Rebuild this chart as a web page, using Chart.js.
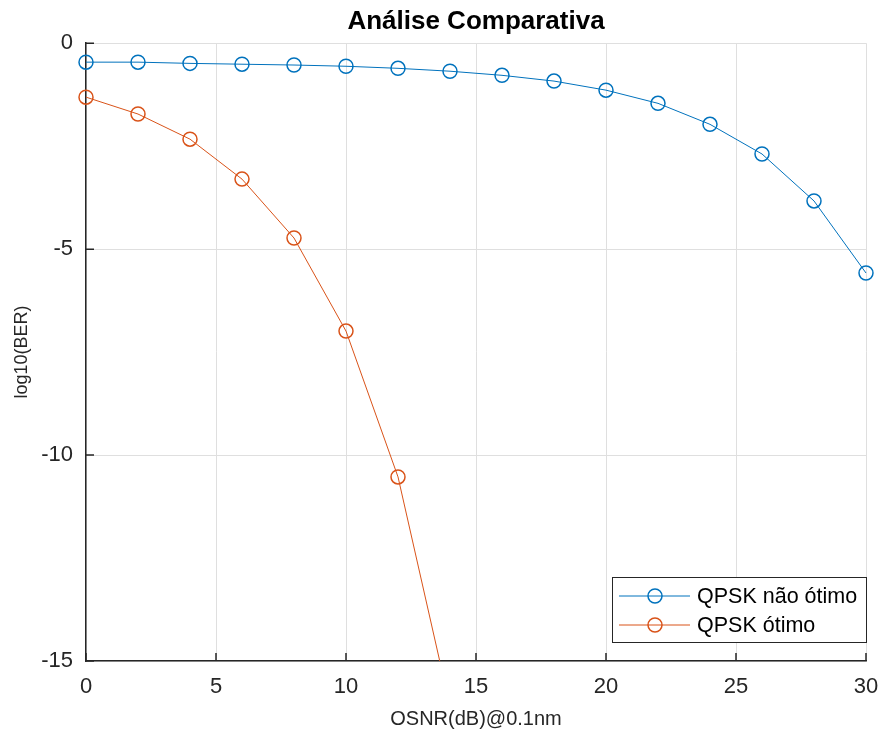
<!DOCTYPE html>
<html>
<head>
<meta charset="utf-8">
<script src="https://cdn.jsdelivr.net/npm/chart.js@4"></script>
<style>
  html, body { margin: 0; padding: 0; background: #fff; }
  #wrap { width: 881px; height: 731px; }
</style>
</head>
<body>
<div id="wrap"><canvas id="grafico" width="881" height="731"></canvas></div>
<script>
const osnr = [0, 2, 4, 6, 8, 10, 12, 14, 16, 18, 20, 22, 24, 26, 28, 30];
const berNaoOtimo = [-0.46, -0.46, -0.49, -0.51, -0.53, -0.56, -0.61, -0.68, -0.78, -0.92, -1.14, -1.46, -1.97, -2.69, -3.83, -5.58];
const osnrOtimo = [0, 2, 4, 6, 8, 10, 12, 14];
const berOtimo = [-1.31, -1.72, -2.33, -3.30, -4.73, -6.99, -10.53, -16.1];
const xTicks = [0, 5, 10, 15, 20, 25, 30];
const yTicks = [0, -5, -10, -15];

const corAzul = '#0072BD';
const corLaranja = '#D95319';
const corTexto = '#262626';
const corGrade = '#dfdfdf';
const fonte = '"Liberation Sans", Arial, sans-serif';

// ticks para dentro, como no MATLAB
const ticksInternos = {
  id: 'ticksInternos',
  afterDatasetsDraw(chart) {
    const { ctx, chartArea, scales } = chart;
    ctx.save();
    ctx.strokeStyle = corTexto;
    ctx.lineWidth = 1.5;
    ctx.beginPath();
    xTicks.forEach(v => {
      const px = scales.x.getPixelForValue(v);
      ctx.moveTo(px, chartArea.bottom);
      ctx.lineTo(px, chartArea.bottom - 8);
    });
    yTicks.forEach(v => {
      const py = scales.y.getPixelForValue(v);
      ctx.moveTo(chartArea.left, py);
      ctx.lineTo(chartArea.left + 8, py);
    });
    ctx.stroke();
    ctx.restore();
  }
};

// legenda no canto inferior direito
const legendaInterna = {
  id: 'legendaInterna',
  afterDraw(chart) {
    const { ctx, chartArea } = chart;
    const w = 254, h = 65;
    const x0 = chartArea.right - w, y0 = chartArea.bottom - 19 - h;
    ctx.save();
    ctx.fillStyle = '#fff';
    ctx.fillRect(x0, y0, w, h);
    ctx.strokeStyle = corTexto;
    ctx.lineWidth = 1;
    ctx.strokeRect(x0 + 0.5, y0 + 0.5, w, h);
    chart.data.datasets.forEach((ds, i) => {
      const cy = y0 + 19 + i * 29;
      ctx.strokeStyle = ds.borderColor;
      ctx.lineWidth = 1;
      ctx.beginPath();
      ctx.moveTo(x0 + 7, cy);
      ctx.lineTo(x0 + 78, cy);
      ctx.stroke();
      ctx.lineWidth = 1.5;
      ctx.beginPath();
      ctx.arc(x0 + 43, cy, 7, 0, Math.PI * 2);
      ctx.stroke();
      ctx.fillStyle = '#000';
      ctx.font = '21.5px ' + fonte;
      ctx.textBaseline = 'middle';
      ctx.fillText(ds.label, x0 + 85, cy + 1);
    });
    ctx.restore();
  }
};

const ctx = document.getElementById('grafico').getContext('2d');
new Chart(ctx, {
  type: 'line',
  data: {
    datasets: [
      {
        label: 'QPSK não ótimo',
        data: osnr.map((x, i) => ({ x: x, y: berNaoOtimo[i] })),
        borderColor: corAzul,
        backgroundColor: 'rgba(0,0,0,0)',
        borderWidth: 1,
        pointRadius: 7,
        pointBorderWidth: 1.5,
        pointBorderColor: corAzul,
        pointBackgroundColor: 'rgba(0,0,0,0)',
        clip: { left: 10, right: 10, top: 10, bottom: 0 }
      },
      {
        label: 'QPSK ótimo',
        data: osnrOtimo.map((x, i) => ({ x: x, y: berOtimo[i] })),
        borderColor: corLaranja,
        backgroundColor: 'rgba(0,0,0,0)',
        borderWidth: 1,
        pointRadius: 7,
        pointBorderWidth: 1.5,
        pointBorderColor: corLaranja,
        pointBackgroundColor: 'rgba(0,0,0,0)',
        clip: { left: 10, right: 10, top: 10, bottom: 0 }
      }
    ]
  },
  options: {
    responsive: false,
    animation: false,
    layout: { padding: { left: 0, right: 15, top: 0, bottom: 0 } },
    plugins: {
      legend: { display: false },
      tooltip: { enabled: false },
      title: {
        display: true,
        fullSize: false,
        text: 'Análise Comparativa',
        color: '#000',
        font: { family: fonte, size: 26, weight: 'bold', lineHeight: 1.2 },
        padding: { top: 6, bottom: 6 }
      }
    },
    scales: {
      x: {
        type: 'linear',
        min: 0,
        max: 30,
        afterFit(scale) { scale.height = 70; scale.paddingLeft = 0; scale.paddingRight = 0; },
        afterBuildTicks(scale) { scale.ticks = xTicks.map(v => ({ value: v })); },
        grid: { color: corGrade, lineWidth: 1, drawTicks: false },
        border: { color: corTexto, width: 1.5 },
        ticks: { color: corTexto, padding: 13, maxRotation: 0, font: { family: fonte, size: 22 } },
        title: {
          display: true,
          text: 'OSNR(dB)@0.1nm',
          color: corTexto,
          font: { family: fonte, size: 20 },
          padding: { top: 0, bottom: 0 }
        }
      },
      y: {
        type: 'linear',
        min: -15,
        max: 0,
        afterFit(scale) { scale.width = 86; scale.paddingTop = 0; scale.paddingBottom = 0; },
        afterBuildTicks(scale) { scale.ticks = yTicks.slice().reverse().map(v => ({ value: v })); },
        grid: { color: corGrade, lineWidth: 1, drawTicks: false },
        border: { color: corTexto, width: 1.5 },
        ticks: { color: corTexto, padding: 13, font: { family: fonte, size: 22 } },
        title: {
          display: true,
          text: 'log10(BER)',
          color: corTexto,
          font: { family: fonte, size: 18 },
          padding: { top: 11, bottom: 0 }
        }
      }
    }
  },
  plugins: [ticksInternos, legendaInterna]
});
</script>
</body>
</html>
